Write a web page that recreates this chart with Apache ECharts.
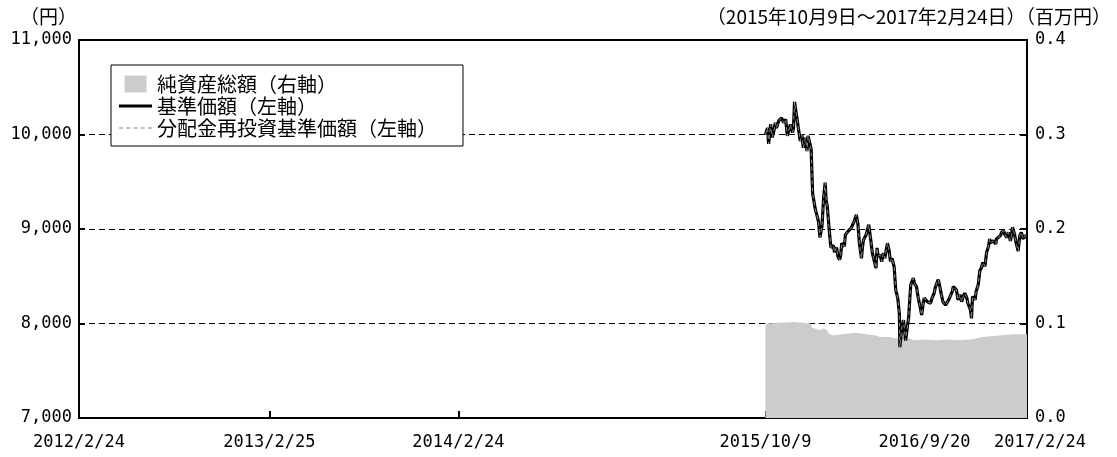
<!DOCTYPE html>
<html>
<head>
<meta charset="utf-8">
<script src="https://cdn.jsdelivr.net/npm/echarts@6/dist/echarts.min.js"></script>
<style>
html, body { margin: 0; padding: 0; background: #fff; }
#chart { width: 1117px; height: 457px; }
</style>
</head>
<body>
<div id="chart"></div>
<script>
// 基準価額（円）
const navDates = [
  '2015-10-09','2015-10-13','2015-10-15','2015-10-19','2015-10-22','2015-10-26','2015-10-28','2015-10-30',
  '2015-11-04','2015-11-09','2015-11-13','2015-11-17','2015-11-20','2015-11-24','2015-11-26','2015-11-30',
  '2015-12-02','2015-12-04','2015-12-08','2015-12-11','2015-12-15','2015-12-18','2015-12-21','2015-12-25',
  '2015-12-28','2015-12-30','2016-01-05','2016-01-07','2016-01-08','2016-01-13','2016-01-15','2016-01-19',
  '2016-01-22','2016-01-26','2016-01-29','2016-02-01','2016-02-03','2016-02-05','2016-02-09','2016-02-12',
  '2016-02-17','2016-02-19','2016-02-23','2016-02-26','2016-02-29','2016-03-02','2016-03-04','2016-03-09',
  '2016-03-11','2016-03-16','2016-03-18','2016-03-22','2016-03-25','2016-03-28','2016-04-01','2016-04-04',
  '2016-04-07','2016-04-11','2016-04-13','2016-04-15','2016-04-20','2016-04-25','2016-04-28','2016-05-02',
  '2016-05-06','2016-05-09','2016-05-11','2016-05-13','2016-05-17','2016-05-20','2016-05-23','2016-05-26',
  '2016-05-31','2016-06-03','2016-06-06','2016-06-09','2016-06-13','2016-06-16','2016-06-20','2016-06-22',
  '2016-06-23','2016-06-24','2016-06-28','2016-07-01','2016-07-05','2016-07-08','2016-07-11','2016-07-13',
  '2016-07-15','2016-07-20','2016-07-22','2016-07-26','2016-07-29','2016-08-02','2016-08-05','2016-08-08',
  '2016-08-10','2016-08-16','2016-08-22','2016-08-25','2016-08-29','2016-08-31','2016-09-02','2016-09-06',
  '2016-09-09','2016-09-12','2016-09-15','2016-09-20','2016-09-23','2016-09-26','2016-09-28','2016-10-03',
  '2016-10-05','2016-10-07','2016-10-11','2016-10-14','2016-10-18','2016-10-21','2016-10-24','2016-10-27',
  '2016-10-31','2016-11-02','2016-11-07','2016-11-09','2016-11-11','2016-11-16','2016-11-18','2016-11-22',
  '2016-11-25','2016-11-28','2016-12-01','2016-12-05','2016-12-08','2016-12-12','2016-12-14','2016-12-16',
  '2016-12-21','2016-12-26','2016-12-27','2016-12-30','2017-01-04','2017-01-06','2017-01-10','2017-01-12',
  '2017-01-16','2017-01-19','2017-01-23','2017-01-25','2017-01-27','2017-01-31','2017-02-03','2017-02-07',
  '2017-02-10','2017-02-13','2017-02-16','2017-02-20','2017-02-22','2017-02-24'
]
const navValues = [
  10000,10070,9900,10110,9970,10060,10125,10070,
  10150,10175,10125,10160,9985,10070,10105,10020,
  10070,10345,10195,10210,9930,10000,9860,9965,
  9825,9985,9845,9510,9370,9210,9195,9085,
  8910,9035,9330,9490,9300,9245,8980,8805,
  8825,8755,8805,8700,8675,8725,8850,8815,
  8940,8975,8955,9010,9045,9080,9150,9060,
  8850,8690,8815,8885,8940,9045,8920,8745,
  8655,8585,8800,8710,8725,8655,8745,8690,
  8850,8780,8655,8690,8600,8355,8265,8285,
  8105,7750,7965,8035,7820,7805,8070,8250,
  8410,8480,8425,8390,8285,8175,8090,8215,
  8270,8230,8215,8270,8320,8375,8410,8465,
  8390,8305,8230,8195,8180,8250,8270,8340,
  8390,8410,8355,8250,8305,8230,8285,8320,
  8270,8215,8145,8055,8285,8250,8340,8410,
  8555,8590,8645,8605,8750,8820,8895,8855,
  8875,8840,8895,8875,8930,8965,8980,8945,
  8910,8965,8875,8930,9020,8945,8855,8765,
  8930,8965,8895,8930,8910,8910
]

// 純資産総額（百万円）
const assetDates = [
  '2015-10-09','2015-12-04','2016-01-04','2016-01-06','2016-01-22','2016-01-29','2016-02-03','2016-02-10',
  '2016-02-17','2016-03-01','2016-03-18','2016-04-01','2016-04-21','2016-05-06','2016-05-17','2016-06-06',
  '2016-06-17','2016-07-01','2016-07-13','2016-07-20','2016-08-08','2016-08-29','2016-09-23','2016-10-11',
  '2016-11-07','2016-11-25','2016-12-14','2017-01-03','2017-01-27','2017-02-20','2017-02-24'
]
const assetValues = [
  0.1, 0.1017, 0.1, 0.0958, 0.0929, 0.0947, 0.0937, 0.0887,
  0.0873, 0.0884, 0.0894, 0.0901, 0.0887, 0.0876, 0.0858, 0.0858,
  0.0841, 0.0858, 0.0841, 0.0824, 0.0831, 0.0824, 0.0831, 0.0824,
  0.0831, 0.0852, 0.0866, 0.0873, 0.0887, 0.0887, 0.0887
]

const tickLabels = ['2012/2/24', '2013/2/25', '2014/2/24', '2015/10/9', '2016/9/20', '2017/2/24']

const CJK = '"Noto Sans CJK JP", sans-serif'
const MONO = '"DejaVu Sans Mono", monospace'

function toTs(s) {
  const p = s.split(/[-\/]/).map(Number)
  return Date.UTC(p[0], p[1] - 1, p[2])
}
const tickTs = tickLabels.map(toTs)

const chart = echarts.init(document.getElementById('chart'), null, { renderer: 'canvas' })

const numText = { fontFamily: MONO, fontSize: 17, color: '#000' }
const cjkTitle = { fontFamily: CJK, fontSize: 19, fontWeight: 'normal', color: '#000' }

// 凡例アイコン：塗り四角／実線／破線
const iconBox = 'path://M0,0H22V17H0Z'
const iconSolid = 'path://M0,0H33V3H0Z'
const iconDash = 'path://M0,0H4V1H0Z M7,0H11V1H7Z M14,0H18V1H14Z M21,0H25V1H21Z M28,0H32V1H28Z'

chart.setOption({
  animation: false,
  title: [
    { text: '（円）', left: 20, top: 7, padding: 0, textStyle: cjkTitle },
    { text: '（2015年10月9日～2017年2月24日）（百万円）', right: 6, top: 7, padding: 0, textStyle: cjkTitle }
  ],
  legend: {
    orient: 'vertical',
    left: 111, top: 65,
    padding: [9, 26, 8, 8],
    itemGap: 2, itemWidth: 33, itemHeight: 17,
    borderColor: '#000', borderWidth: 1, borderRadius: 0,
    backgroundColor: '#fff',
    textStyle: { fontFamily: CJK, fontSize: 20, color: '#000', lineHeight: 20 },
    data: [
      { name: '純資産総額（右軸）', icon: iconBox },
      { name: '基準価額（左軸）', icon: iconSolid },
      { name: '分配金再投資基準価額（左軸）', icon: iconDash }
    ]
  },
  grid: { left: 79, right: 90, top: 40, bottom: 39, show: true, borderColor: '#000', borderWidth: 2 },
  xAxis: {
    type: 'value',
    min: tickTs[0], max: tickTs[tickTs.length - 1],
    axisLine: { show: false },
    axisTick: { show: true, inside: true, length: 7, customValues: tickTs, lineStyle: { color: '#000', width: 2 } },
    axisLabel: {
      ...numText, margin: 16, customValues: tickTs,
      formatter: v => {
        const i = tickTs.indexOf(v)
        const s = i >= 0 ? tickLabels[i] : ''
        if (i === 4) return '{l|' + s + '}'
        if (i === 5) return '{r|' + s + '}'
        return s
      },
      rich: {
        l: { ...numText, padding: [0, 42, 0, 0] },
        r: { ...numText, padding: [0, 0, 0, 26] }
      }
    },
    splitLine: { show: false }
  },
  yAxis: [
    {
      type: 'value', position: 'left', min: 7000, max: 11000, interval: 1000,
      axisLine: { show: false },
      axisTick: { show: true, inside: true, length: 6, lineStyle: { color: '#000', width: 2 } },
      axisLabel: { ...numText, margin: 7, formatter: v => v.toLocaleString('en-US') },
      splitLine: { show: true, lineStyle: { color: '#000', width: 1, type: [6, 4] } }
    },
    {
      type: 'value', position: 'right', min: 0, max: 0.4, interval: 0.1,
      axisLine: { show: false },
      axisTick: { show: true, inside: true, length: 7, lineStyle: { color: '#000', width: 2 } },
      axisLabel: { ...numText, margin: 8, formatter: v => v.toFixed(1) },
      splitLine: { show: false }
    }
  ],
  series: [
    {
      name: '純資産総額（右軸）',
      type: 'line', yAxisIndex: 1, z: 1,
      data: assetDates.map((d, i) => [toTs(d), assetValues[i]]),
      symbol: 'none',
      itemStyle: { color: '#cccccc' },
      lineStyle: { width: 0, color: '#cccccc' },
      areaStyle: { color: '#cccccc', opacity: 1 }
    },
    {
      name: '基準価額（左軸）',
      type: 'line', yAxisIndex: 0, z: 3,
      data: navDates.map((d, i) => [toTs(d), navValues[i]]),
      symbol: 'none',
      itemStyle: { color: '#000' },
      lineStyle: { color: '#000', width: 3.2 }
    },
    {
      name: '分配金再投資基準価額（左軸）',
      type: 'line', yAxisIndex: 0, z: 4,
      data: navDates.map((d, i) => [toTs(d), navValues[i]]),
      symbol: 'none',
      itemStyle: { color: '#8c8c8c' },
      lineStyle: { color: '#8c8c8c', width: 1, type: [4, 3] }
    }
  ]
})
</script>
</body>
</html>
